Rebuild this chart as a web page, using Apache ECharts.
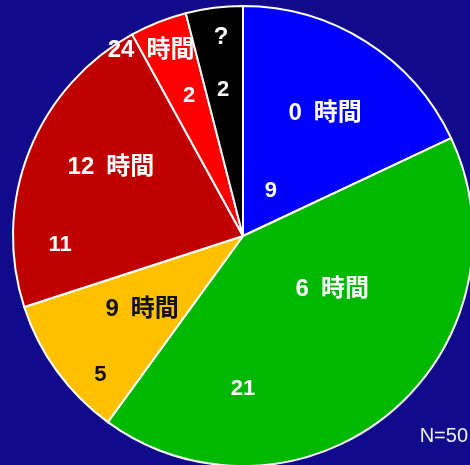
<!DOCTYPE html>
<html>
<head>
<meta charset="utf-8">
<script src="https://cdn.jsdelivr.net/npm/echarts@6/dist/echarts.min.js"></script>
<style>
  html, body { margin: 0; padding: 0; background: #110a8b; }
  #chart { width: 470px; height: 465px; }
</style>
</head>
<body>
<div id="chart"></div>
<script>
// Survey answers: hours, and how many respondents gave each answer
const categories = ['0 時間', '6 時間', '9 時間', '12 時間', '24 時間', '?'];
const counts = [9, 21, 5, 11, 2, 2];

const sliceColors = ['#0000ff', '#00b800', '#ffc000', '#c00000', '#ff0000', '#000000'];
const textColors = ['#ffffff', '#ffffff', '#111111', '#ffffff', '#ffffff', '#ffffff'];

// Label placement per slice: [angle offset from slice middle (deg), distance as share of radius]
const nameSpots = [[1.3, 0.643], [-19.6, 0.452], [0, 0.542], [6, 0.648], [-4.7, 0.902], [0.9, 0.87]];
const valueSpots = [[-0.5, 0.23], [39.6, 0.665], [-8.2, 0.865], [-24.4, 0.796], [0.5, 0.652], [-0.5, 0.643]];

const cx = 243, cy = 236, R = 230;
const total = counts.reduce((a, b) => a + b, 0);

function midAngle(i) {
  let before = 0;
  for (let k = 0; k < i; k++) before += counts[k];
  return (before + counts[i] / 2) / total * 360;
}

function placeLabel(spots) {
  return function (p) {
    const s = spots[p.dataIndex];
    const a = (midAngle(p.dataIndex) + s[0]) * Math.PI / 180;
    const r = s[1] * R;
    return { x: cx + r * Math.sin(a), y: cy - r * Math.cos(a), align: 'center', verticalAlign: 'middle' };
  };
}

const fontStack = '"Liberation Sans", "Noto Sans CJK JP", sans-serif';

function buildData(transparent) {
  return categories.map((name, i) => ({
    name: name,
    value: counts[i],
    itemStyle: transparent
      ? { color: 'transparent', borderWidth: 0 }
      : { color: sliceColors[i], borderColor: '#ffffff', borderWidth: 2 },
    label: { color: textColors[i] }
  }));
}

const base = {
  type: 'pie',
  center: [cx, cy],
  radius: R,
  startAngle: 90,
  clockwise: true,
  avoidLabelOverlap: false,
  silent: true,
  labelLine: { show: false },
  emphasis: { disabled: true }
};

const chart = echarts.init(document.getElementById('chart'), null, { renderer: 'canvas' });
chart.setOption({
  backgroundColor: '#110a8b',
  animation: false,
  series: [
    Object.assign({}, base, {
      data: buildData(false),
      label: {
        show: true,
        position: 'inside',
        // widen the gap between the number and 時間
        formatter: p => p.name.replace(' ', '\u2002'),
        fontFamily: fontStack,
        fontWeight: 'bold',
        fontSize: 24
      },
      labelLayout: placeLabel(nameSpots)
    }),
    Object.assign({}, base, {
      data: buildData(true),
      label: {
        show: true,
        position: 'inside',
        formatter: '{c}',
        fontFamily: fontStack,
        fontWeight: 'bold',
        fontSize: 22
      },
      labelLayout: placeLabel(valueSpots)
    })
  ],
  graphic: [{
    type: 'text',
    right: 2,
    top: 426,
    style: {
      text: 'N=' + total,
      fill: '#f0f0ff',
      font: '20px "Liberation Sans", sans-serif'
    }
  }]
});
</script>
</body>
</html>
